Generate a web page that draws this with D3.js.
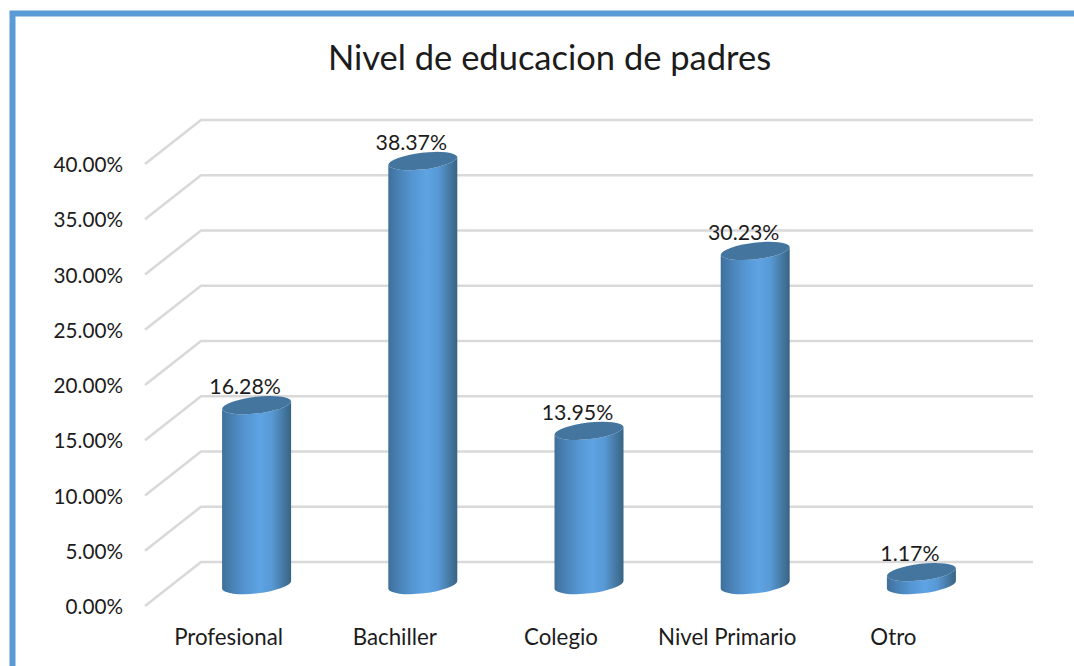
<!DOCTYPE html>
<html><head><meta charset="utf-8">
<script src="https://cdn.jsdelivr.net/npm/d3@7"></script>
<style>html,body{margin:0;padding:0;background:#fff}svg{display:block}text{font-family:Lato,"Open Sans",sans-serif;fill:#1c1c1c}</style>
</head><body><svg id="c" width="1074" height="666"></svg>
<script>
const title = "Nivel de educacion de padres";
const categories = ["Profesional","Bachiller","Colegio","Nivel Primario","Otro"];
const values = [16.28,38.37,13.95,30.23,1.17];
const valueLabels = ["16.28%","38.37%","13.95%","30.23%","1.17%"];
const yTicks = [0,5,10,15,20,25,30,35,40];

const svg = d3.select("#c");
// frame
svg.append("path").attr("d",`M12.5 666V13.5H1074`).attr("fill","none").attr("stroke","#5b9bd5").attr("stroke-width",6);

const y = d3.scaleLinear().domain([0,40]).range([562,120]);
const x = d3.scaleBand().domain(categories).range([173.5,1004.5]).padding(0);
const depthX=-56, depthY=44, barDepthY=23;
const cx = c => x(c)+x.bandwidth()/2;
const baseY = v => y(v)+barDepthY;

const defs = svg.append("defs");
const g = defs.append("linearGradient").attr("id","cyl");
[[0,"#3f6f9b"],[0.12,"#477eb0"],[0.35,"#5596d3"],[0.55,"#5ea3e3"],[0.72,"#5899d6"],[0.9,"#44779f"],[1,"#386384"]]
 .forEach(([o,c])=>g.append("stop").attr("offset",o).attr("stop-color",c));

// grid
const grid = svg.append("g").attr("fill","none").attr("stroke","#d9d9d9").attr("stroke-width",2.6);
yTicks.forEach(t=>{
  grid.append("path").attr("d",`M${201+depthX} ${y(t)+depthY}L201 ${y(t)}H1033`);
});
// tick labels
svg.append("g").selectAll("text").data(yTicks).join("text")
 .attr("x",123).attr("y",t=>y(t)+depthY+0.7).attr("dy","0.36em").attr("text-anchor","end")
 .attr("font-size",20.7).text(t=>d3.format(".2f")(t)+"%");

// cylinders
const rx=34.75, ry=8.6, rot=-6.6, dx=34.5, dy=4;
const bars = svg.append("g").selectAll("g").data(categories.map((c,i)=>({c,v:values[i],l:valueLabels[i]}))).join("g");
bars.append("path").attr("fill","url(#cyl)").attr("d",d=>{
  const X=cx(d.c), T=baseY(d.v), B=baseY(0);
  return `M${X-dx} ${T+dy}L${X-dx} ${B+dy}A${rx} ${ry} ${rot} 0 0 ${X+dx} ${B-dy}L${X+dx} ${T-dy}A${rx} ${ry} ${rot} 0 1 ${X-dx} ${T+dy}Z`;
});
bars.append("path").attr("fill","#44759f").attr("d",d=>{
  const X=cx(d.c), T=baseY(d.v);
  return `M${X-dx} ${T+dy}A${rx} ${ry} ${rot} 0 1 ${X+dx} ${T-dy}A${rx} ${ry} ${rot} 0 1 ${X-dx} ${T+dy}Z`;
});
// value labels
bars.append("text").attr("x",d=>cx(d.c)-11.5).attr("y",d=>baseY(d.v)-19).attr("dy","0.36em")
 .attr("text-anchor","middle").attr("font-size",21.3).text(d=>d.l);
// category labels
bars.append("text").attr("x",d=>cx(d.c)-28).attr("y",637).attr("dy","0.36em")
 .attr("text-anchor","middle").attr("font-size",22.3).text(d=>d.c);
// title
svg.append("text").attr("x",549.5).attr("y",58).attr("dy","0.36em").attr("text-anchor","middle")
 .attr("font-size",34.5).text(title);
</script></body></html>
